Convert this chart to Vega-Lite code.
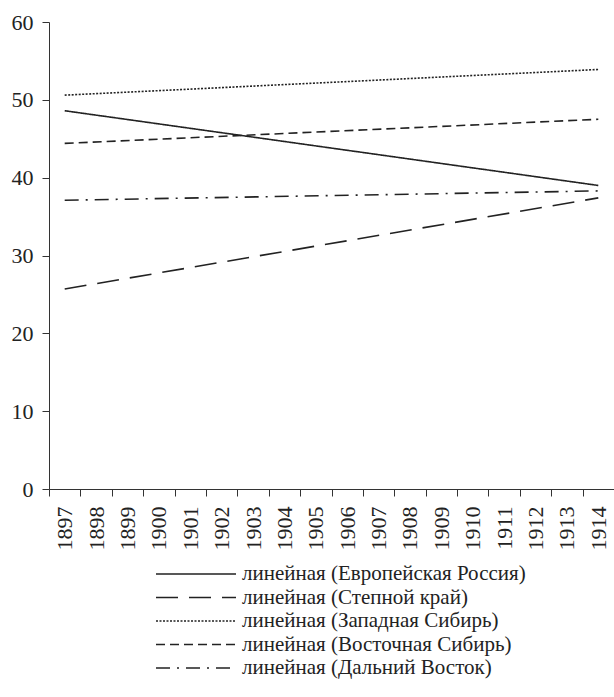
{
  "$schema": "https://vega.github.io/schema/vega-lite/v6.json",
  "autosize": "none",
  "padding": {"left": 49, "top": 22, "right": 0, "bottom": 208},
  "width": 565,
  "height": 467,
  "background": "white",
  "config": {
    "view": {"stroke": null},
    "font": "Liberation Serif",
    "axis": {
      "labelFont": "Liberation Serif",
      "labelColor": "#222",
      "domainColor": "#333",
      "tickColor": "#333",
      "grid": false,
      "title": null
    }
  },
  "data": {
    "values": [
      {"series": "линейная (Европейская Россия)", "year": "1897", "value": 48.6},
      {"series": "линейная (Европейская Россия)", "year": "1914", "value": 39.0},
      {"series": "линейная (Степной край)", "year": "1897", "value": 25.7},
      {"series": "линейная (Степной край)", "year": "1914", "value": 37.4},
      {"series": "линейная (Западная Сибирь)", "year": "1897", "value": 50.6},
      {"series": "линейная (Западная Сибирь)", "year": "1914", "value": 53.9},
      {"series": "линейная (Восточная Сибирь)", "year": "1897", "value": 44.4},
      {"series": "линейная (Восточная Сибирь)", "year": "1914", "value": 47.5},
      {"series": "линейная (Дальний Восток)", "year": "1897", "value": 37.1},
      {"series": "линейная (Дальний Восток)", "year": "1914", "value": 38.3}
    ]
  },
  "mark": {"type": "line", "color": "#222", "strokeWidth": 1.6},
  "encoding": {
    "x": {
      "field": "year",
      "type": "ordinal",
      "scale": {
        "domain": ["1897", "1898", "1899", "1900", "1901", "1902", "1903", "1904", "1905", "1906", "1907", "1908", "1909", "1910", "1911", "1912", "1913", "1914"],
        "paddingInner": 0,
        "paddingOuter": 0
      },
      "axis": {
        "labelAngle": 270,
        "labelFont": "Liberation Serif",
        "labelFontSize": 22,
        "tickBand": "extent",
        "tickSize": 7,
        "labelPadding": 10
      }
    },
    "y": {
      "field": "value",
      "type": "quantitative",
      "scale": {"domain": [0, 60], "nice": false},
      "axis": {
        "values": [0, 10, 20, 30, 40, 50, 60],
        "labelFont": "Liberation Serif",
        "labelFontSize": 22,
        "tickSize": 7,
        "labelPadding": 9
      }
    },
    "strokeDash": {
      "field": "series",
      "type": "nominal",
      "scale": {
        "domain": ["линейная (Европейская Россия)", "линейная (Степной край)", "линейная (Западная Сибирь)", "линейная (Восточная Сибирь)", "линейная (Дальний Восток)"],
        "range": [[1, 0], [22, 11], [2, 1.5], [9, 5], [14, 7, 2, 7]]
      },
      "legend": {
        "orient": "none",
        "legendX": 136,
        "legendY": 541,
        "title": null,
        "symbolType": "M-4,0H4",
        "symbolSize": 400,
        "symbolStrokeWidth": 1.5,
        "symbolStrokeColor": "#222",
        "labelFont": "Liberation Serif",
        "labelFontSize": 21,
        "labelColor": "#222",
        "labelOffset": 35,
        "rowPadding": 2.5,
        "labelLimit": 400
      }
    }
  }
}
